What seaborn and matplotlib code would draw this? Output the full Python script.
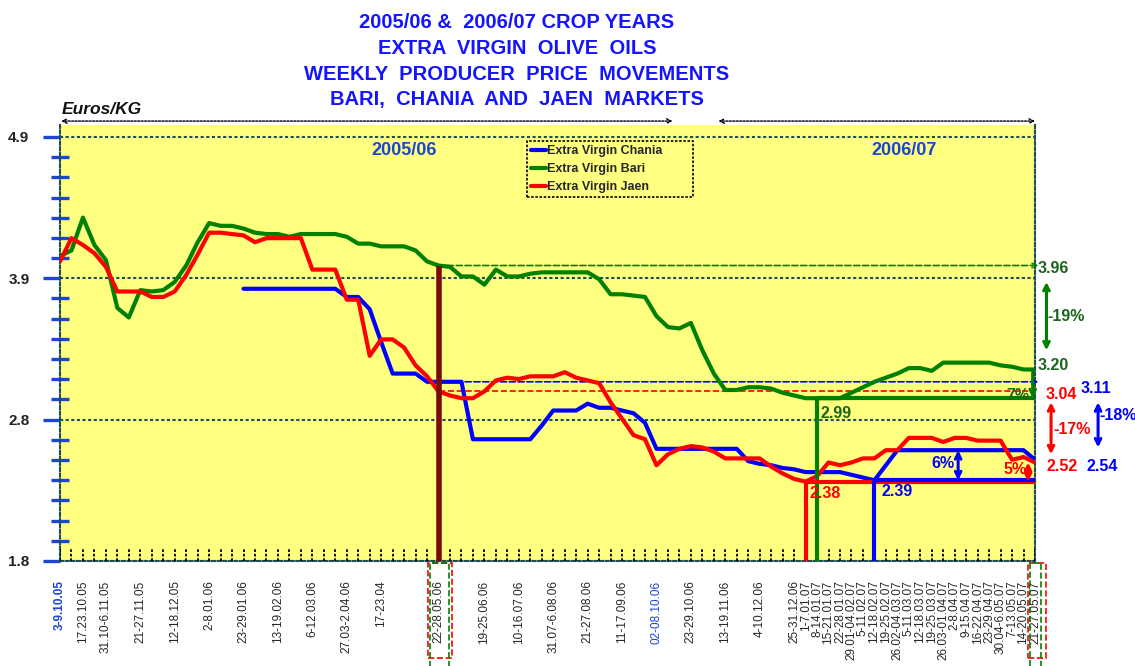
import numpy as np
import pandas as pd
import matplotlib
matplotlib.use("Agg")
import matplotlib.pyplot as plt
from matplotlib.lines import Line2D
from matplotlib.patches import Rectangle
import seaborn as sns

# ---------------- data ----------------
series_names = ["Extra Virgin Chania", "Extra Virgin Bari", "Extra Virgin Jaen"]
series_colors = ["#0000FF", "#008000", "#FF0000"]

week = list(range(86))

bari = [4.03, 4.07, 4.31, 4.11, 4.00, 3.65, 3.58, 3.78, 3.77, 3.78,
        3.84, 3.96, 4.13, 4.27, 4.25, 4.25, 4.23, 4.20, 4.19, 4.19,
        4.17, 4.19, 4.19, 4.19, 4.19, 4.17, 4.12, 4.12, 4.10, 4.10,
        4.10, 4.07, 3.99, 3.96, 3.95, 3.88, 3.88, 3.82, 3.93, 3.88,
        3.88, 3.90, 3.91, 3.91, 3.91, 3.91, 3.91, 3.86, 3.75, 3.75,
        3.74, 3.73, 3.59, 3.51, 3.50, 3.54, 3.34, 3.17, 3.05, 3.05,
        3.07, 3.07, 3.06, 3.03, 3.01, 2.99, 2.99, 2.99, 2.99, 3.03,
        3.07, 3.11, 3.14, 3.17, 3.21, 3.21, 3.19, 3.25, 3.25, 3.25,
        3.25, 3.25, 3.23, 3.22, 3.20, 3.20]

jaen = [3.99, 4.16, 4.11, 4.05, 3.95, 3.77, 3.77, 3.77, 3.73, 3.73,
        3.77, 3.89, 4.04, 4.20, 4.20, 4.19, 4.18, 4.13, 4.16, 4.16,
        4.16, 4.16, 3.93, 3.93, 3.93, 3.71, 3.71, 3.30, 3.42, 3.42,
        3.36, 3.23, 3.15, 3.04, 3.01, 2.99, 2.99, 3.04, 3.12, 3.14,
        3.13, 3.15, 3.15, 3.15, 3.18, 3.14, 3.12, 3.10, 2.96, 2.84,
        2.72, 2.69, 2.50, 2.58, 2.62, 2.64, 2.63, 2.60, 2.55, 2.55,
        2.55, 2.55, 2.49, 2.44, 2.40, 2.38, 2.42, 2.52, 2.50, 2.52,
        2.55, 2.55, 2.61, 2.61, 2.70, 2.70, 2.70, 2.67, 2.70, 2.70,
        2.68, 2.68, 2.68, 2.54, 2.56, 2.52]

chania = [None, None, None, None, None, None, None, None, None, None,
          None, None, None, None, None, None, 3.79, 3.79, 3.79, 3.79,
          3.79, 3.79, 3.79, 3.79, 3.79, 3.73, 3.73, 3.64, 3.40, 3.17,
          3.17, 3.17, 3.11, 3.11, 3.11, 3.11, 2.69, 2.69, 2.69, 2.69,
          2.69, 2.69, 2.79, 2.90, 2.90, 2.90, 2.95, 2.92, 2.92, 2.90,
          2.88, 2.81, 2.62, 2.62, 2.62, 2.62, 2.62, 2.62, 2.62, 2.62,
          2.53, 2.51, 2.50, 2.48, 2.47, 2.45, 2.45, 2.45, 2.45, 2.43,
          2.41, 2.39, 2.50, 2.61, 2.61, 2.61, 2.61, 2.61, 2.61, 2.61,
          2.61, 2.61, 2.61, 2.61, 2.61, 2.54]

label_weeks = [0, 2, 4, 7, 10, 13, 16, 19, 22, 25, 28, 33, 37, 40, 43, 46, 49,
               52, 55, 58, 61, 64, 65, 66, 67, 68, 69, 70, 71, 72, 73, 74, 75,
               76, 77, 78, 79, 80, 81, 82, 83, 84, 85]
label_texts = ["3-9.10.05", "17.23.10.05", "31.10-6.11.05", "21-27.11.05",
               "12-18.12.05", "2-8.01.06", "23-29.01.06", "13-19.02.06",
               "6-12.03.06", "27.03-2.04.06", "17-23.04", "22-28.05.06",
               "19-25.06.06", "10-16.07.06", "31.07-6.08.06", "21-27.08.06",
               "11-17.09.06", "02-08.10.06", "23-29.10.06", "13-19.11.06",
               "4-10.12.06", "25-31.12.06", "1-7.01.07", "8-14.01.07",
               "15-21.01.07", "22-28.01.07", "29.01-04.02.07", "5-11.02.07",
               "12-18.02.07", "19-25.02.07", "26.02-04.03.07", "5-11.03.07",
               "12-18.03.07", "19-25.03.07", "26.03-01.04.07", "2-8.04.07",
               "9-15.04.07", "16-22.04.07", "23-29.04.07", "30.04-6.05.07",
               "7-13.05.07", "14-20.05.07", "21-27.05.07"]

y_tick_labels = ["1.8", "2.8", "3.9", "4.9"]

title_lines = ["2005/06 &  2006/07 CROP YEARS",
               "EXTRA  VIRGIN  OLIVE  OILS",
               "WEEKLY  PRODUCER  PRICE  MOVEMENTS",
               "BARI,  CHANIA  AND  JAEN  MARKETS"]

# reference points used by the annotations
ref_week = 33            # 22-28.05.06
bari_min_week, jaen_min_week, chania_min_week = 66, 65, 71
end_week = 85

# ---------------- style ----------------
sns.set_style("white")
plt.rcParams["font.family"] = ["Liberation Sans", "DejaVu Sans"]

BLUE, GREEN, RED = series_colors
GREEN_T = "#1b641b"
GRIDC = "#1d4d5b"
TICKC = "#1a45d6"

df = pd.DataFrame({"week": week * 3,
                   "price": chania + bari + jaen,
                   "series": [series_names[0]] * 86 + [series_names[1]] * 86 + [series_names[2]] * 86})
df = df.dropna()

fig = plt.figure(figsize=(11.35, 6.66), dpi=100)
ax = fig.add_axes([60 / 1135, 105 / 666, 975 / 1135, 436 / 666])
ax.set_facecolor("#FFFF80")

sns.lineplot(data=df, x="week", y="price", hue="series", hue_order=series_names,
             palette=series_colors, lw=3, estimator=None, sort=False,
             legend=False, ax=ax, zorder=5)

ax.set_xlim(0, 85)
ax.set_ylim(1.8, 1.8 + 436 / 136.8)
ax.set_xlabel("")
ax.set_ylabel("")

# spines
ax.spines["top"].set_visible(False)
for s in ["left", "right", "bottom"]:
    ax.spines[s].set_linestyle((0, (1.5, 1.2)))
    ax.spines[s].set_color(GRIDC)
    ax.spines[s].set_linewidth(1.5)

# y ticks
step = (4.9 - 1.8) / 21
major = [1.8 + k * 7 * step for k in range(4)]
minor = [1.8 + k * step for k in range(22)]
ax.set_yticks(major, y_tick_labels)
ax.set_yticks(minor, minor=True)
ax.tick_params(axis="y", which="both", left=True, right=False)
ax.tick_params(axis="y", which="major", direction="out", length=12, width=2.4,
               color=TICKC, labelsize=11, pad=10)
ax.tick_params(axis="y", which="minor", direction="inout", length=13, width=2.4,
               color=TICKC)
for t in ax.get_yticklabels():
    t.set_fontweight("bold")
    t.set_color("#222222")
ax.yaxis.grid(True, which="major", ls=(0, (1.5, 1.2)), color=GRIDC, lw=1.5)
ax.xaxis.grid(False)

# x ticks
ax.set_xticks(label_weeks, label_texts, rotation=90, fontsize=8.5)
ax.tick_params(axis="x", length=0, pad=14)
xl = ax.get_xticklabels()
xl[0].set_color(TICKC); xl[0].set_fontweight("bold")
xl[label_weeks.index(52)].set_color(TICKC)
ax.vlines(week, 0, 13 / 436, transform=ax.get_xaxis_transform(), colors="k",
          linestyles=(0, (1.5, 1.0)), lw=1.3, zorder=3)

# reference lines
ax.vlines(ref_week, 1.8, bari[ref_week], colors="#7a0a0a", lw=4, zorder=6)
for val, c in [(bari[ref_week], GREEN), (chania[ref_week], BLUE)]:
    ax.annotate("", xy=(end_week + 0.3, val), xytext=(ref_week, val),
                arrowprops=dict(arrowstyle="->", color=c, lw=1.2, ls="--",
                                shrinkA=0, shrinkB=0, mutation_scale=8),
                annotation_clip=False, zorder=4)
ax.hlines(jaen[ref_week], ref_week, end_week, colors=RED, lw=1.2, linestyles="--", zorder=4)

for wk, vals, c in [(bari_min_week, bari, GREEN), (jaen_min_week, jaen, RED),
                    (chania_min_week, chania, BLUE)]:
    v = vals[wk]
    ax.hlines(v, wk, end_week, colors=c, lw=3, zorder=6)
    ax.vlines(wk, 1.8, v, colors=c, lw=3, zorder=6)


def varrow(x, y0, y1, color, style="<->", lw=2.2):
    ax.annotate("", xy=(x, y1), xytext=(x, y0),
                arrowprops=dict(arrowstyle=style, color=color, lw=lw,
                                shrinkA=0, shrinkB=0, mutation_scale=10),
                annotation_clip=False, zorder=7)


def label(x, y, s, color, ha="left", size=11.5):
    ax.text(x, y, s, color=color, fontsize=size, fontweight="bold", ha=ha,
            va="center", clip_on=False, zorder=8)


# inner annotations
label(bari_min_week + 0.3, 2.88, "2.99", GREEN_T)
label(jaen_min_week + 0.3, 2.29, "2.38", RED)
label(chania_min_week + 0.6, 2.31, "2.39", BLUE)
varrow(78.3, chania[chania_min_week], 2.61, BLUE)
label(78.0, 2.51, "6%", BLUE, ha="right")
varrow(84.4, jaen[jaen_min_week], jaen[end_week], RED)
label(84.3, 2.47, "5%", RED, ha="right")
varrow(84.8, bari[end_week], bari[bari_min_week], GREEN, style="->")
label(84.5, 3.01, "7%", GREEN_T, ha="right")

# right side annotations
label(85.2, 3.94, "3.96", GREEN_T)
varrow(86.0, 3.84, 3.34, GREEN)
label(86.1, 3.59, "-19%", GREEN_T)
label(85.2, 3.23, "3.20", GREEN_T)
label(85.9, 3.02, "3.04", RED)
label(89.0, 3.06, "3.11", BLUE)
varrow(86.4, 2.96, 2.58, RED)
label(86.6, 2.76, "-17%", RED)
varrow(90.5, 2.96, 2.63, BLUE)
label(90.6, 2.86, "-18%", BLUE)
label(86.0, 2.49, "2.52", RED)
label(89.5, 2.49, "2.54", BLUE)

# season labels and top arrows
ax.text(30.0, 4.80, "2005/06", color=TICKC, fontsize=13, fontweight="bold",
        ha="center", va="center")
ax.text(73.6, 4.80, "2006/07", color=TICKC, fontsize=13, fontweight="bold",
        ha="center", va="center")
xt = ax.get_xaxis_transform()
for x0, x1 in [(0.1, 53.4), (57.4, 85.0)]:
    ax.annotate("", xy=(x0, 1.009), xytext=(x1, 1.009), xycoords=xt, textcoords=xt,
                arrowprops=dict(arrowstyle="<->", color="k", lw=1, ls=(0, (1.5, 1)),
                                shrinkA=0, shrinkB=0, mutation_scale=8),
                annotation_clip=False)

# boxes around highlighted week labels
for (rx0, rx1), (gx0, gx1) in [((32.1, 34.2), (32.3, 33.9)), ((84.4, 86.0), (84.6, 85.5))]:
    ax.add_patch(Rectangle((rx0, -0.222), rx1 - rx0, 0.218, transform=xt, fill=False,
                           ec=RED, ls="--", lw=1.2, clip_on=False))
    ax.add_patch(Rectangle((gx0, -0.30), gx1 - gx0, 0.295, transform=xt, fill=False,
                           ec=GREEN, ls="--", lw=1.2, clip_on=False))

# legend
handles = [Line2D([0], [0], color=c, lw=3) for c in series_colors]
leg = ax.legend(handles, series_names, loc="upper left",
                bbox_to_anchor=(0.479, 0.843, 0.17, 0.12), mode="expand",
                borderaxespad=0, fontsize=9, handlelength=1.2, handletextpad=0.1,
                labelspacing=0.5, borderpad=0.3, fancybox=False, framealpha=1,
                facecolor="#FFFF80")
leg.get_frame().set_edgecolor("black")
leg.get_frame().set_linestyle((0, (1.5, 1)))
leg.get_frame().set_linewidth(1.2)
for t in leg.get_texts():
    t.set_fontweight("bold")
leg.set_zorder(10)

# title and unit
for i, line in enumerate(title_lines):
    fig.text(517 / 1135, 1 - (22 + i * 26) / 666, line, color="#1414ff", fontsize=14.5,
             fontweight="bold", ha="center", va="center")
fig.text(62 / 1135, 1 - 110 / 666, "Euros/KG", fontsize=12.5, fontweight="bold",
         fontstyle="italic", ha="left", va="center", color="#111111")

fig.savefig("out.png", dpi=100)
